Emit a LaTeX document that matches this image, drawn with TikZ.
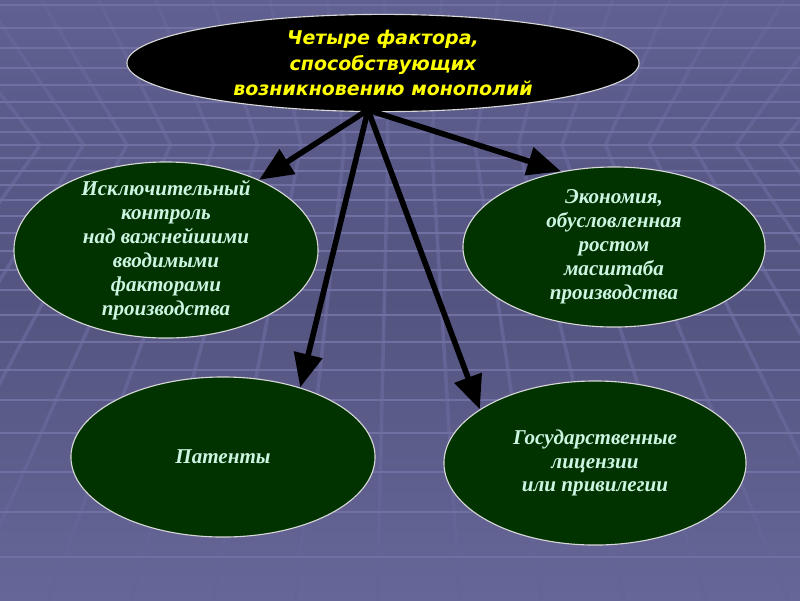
\documentclass[tikz,border=0pt]{standalone}
\usepackage{fontspec}
\usepackage{tikz}
\usetikzlibrary{shapes.geometric,arrows.meta}
\newfontfamily\headfont{DejaVu Sans}
\newfontfamily\ovalfont{Liberation Serif}
\definecolor{bgtop}{RGB}{96,96,146}
\definecolor{bgmid}{RGB}{84,84,128}
\definecolor{bgbottom}{RGB}{102,102,152}
\definecolor{stripe}{RGB}{112,112,162}
\definecolor{tileline}{RGB}{100,100,150}
\definecolor{ovalgreen}{RGB}{0,51,0}
\definecolor{ovalrim}{RGB}{215,215,215}
\definecolor{mint}{RGB}{205,245,225}
\definecolor{headyellow}{RGB}{255,255,0}

\begin{document}
\begin{tikzpicture}
[x=0.025cm,y=-0.025cm]
\tikzset{oval/.style={ellipse,draw=ovalrim,line width=0.8pt,fill=ovalgreen,inner xsep=0pt,inner ysep=-10pt,align=center,text=mint,font=\ovalfont\bfseries\itshape\fontsize{15}{17}\selectfont}}
\tikzset{headoval/.style={oval,fill=black,text=headyellow,font=\headfont\bfseries\itshape\fontsize{13.5}{18.4}\selectfont}}
\tikzset{link/.style={line width=4pt,-{Triangle[length=24pt,width=20pt]}}}

\useasboundingbox (0,0) rectangle (800,600);
\shade[top color=bgtop,bottom color=bgbottom,middle color=bgmid] (0,0) rectangle (800,600);

% floor and ceiling tiles
\begin{scope}
\clip (0,0) rectangle (800,600);
\foreach \k in {-8,...,26}
	\draw[tileline,line width=2.5pt] ({400+(40+43.5*\k-400)*1.313},0) -- ({40+43.5*\k},145) -- ({400+(40+43.5*\k-400)*1.89},600);
\foreach \y in {5,28,48,68,85,102,118,132,145,158,171,185,200,216,233,251,270,290,315,342,370,400,433,472,512,557}
	\draw[stripe,line width=1.2pt] (0,\y) -- (800,\y);
\end{scope}

\node [headoval,minimum width=12.8cm,minimum height=2.43cm] (top) at (383,63) {Четыре фактора,\\способствующих\\возникновению монополий};
\node [oval,minimum width=7.6cm,minimum height=4.4cm] (control) at (166,250) {Исключительный\\контроль\\над важнейшими\\вводимыми\\факторами\\производства};
\node [oval,minimum width=7.55cm,minimum height=4cm] (scale) at (614,247) {Экономия,\\обусловленная\\ростом\\масштаба\\производства};
\node [oval,minimum width=7.6cm,minimum height=4cm] (patent) at (223,457) {Патенты};
\node [oval,minimum width=7.55cm,minimum height=4.1cm] (licence) at (595,463) {Государственные\\лицензии\\или привилегии};

\coordinate (hub) at (368,110);
\foreach \to in {control.37,scale.125,patent.42,licence.155}
	\draw[link] (hub) -- (\to);

\end{tikzpicture}
\end{document}
